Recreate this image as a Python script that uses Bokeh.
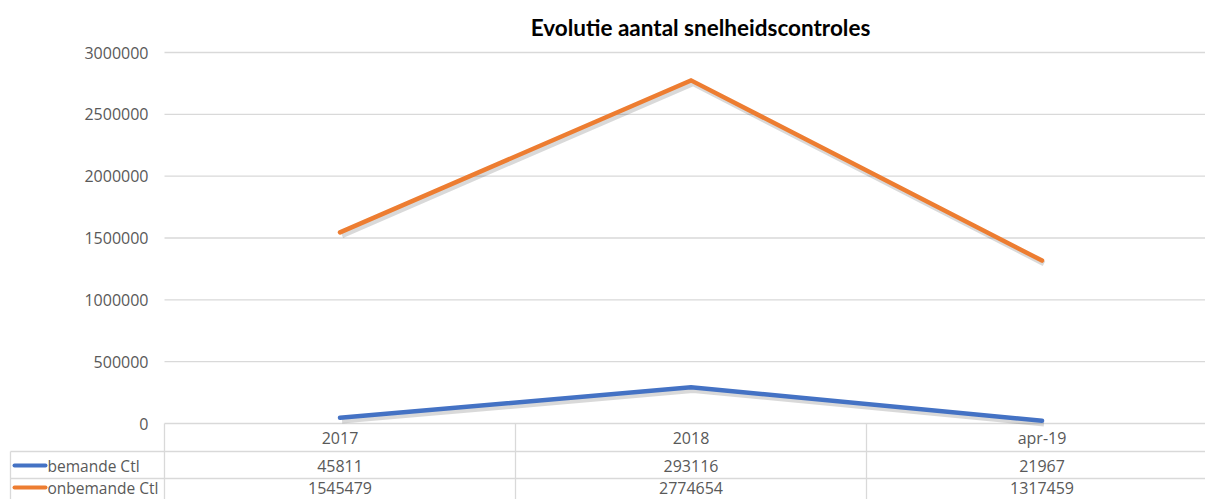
from bokeh.plotting import figure
from bokeh.models import Range1d, ColumnDataSource
from bokeh.transform import dodge
from bokeh.core.properties import value
from bokeh.embed import file_html
from bokeh.resources import INLINE

# ---------------- data ----------------
categories = ["2017", "2018", "apr-19"]
bemande = [45811, 293116, 21967]
onbemande = [1545479, 2774654, 1317459]
series_names = ["bemande Ctl", "onbemande Ctl"]
series_colors = ["#4472C4", "#ED7D31"]
y_ticks = [0, 500000, 1000000, 1500000, 2000000, 2500000, 3000000]
title_text = "Evolutie aantal snelheidscontroles"

# ---------------- layout (pixels) ----------------
W, H = 1205, 499
ORIGIN_X, ORIGIN_Y = 0, 0
PLOT_LEFT = 164                     # screen x of plot-area left
CAT_W = 351                         # px per category
Y0_PX, YTOP_PX = 423, 52            # screen y of 0 and of 3,000,000
YMAX = 3000000
UPP = YMAX / (Y0_PX - YTOP_PX)      # value units per pixel


def sx(px):
    return (px - PLOT_LEFT) / CAT_W


def sy(py):
    return (Y0_PX - py) * UPP


x_range = Range1d(sx(ORIGIN_X), sx(ORIGIN_X + W))
y_range = Range1d(sy(ORIGIN_Y + H), sy(ORIGIN_Y))

p = figure(width=W, height=H, x_range=x_range, y_range=y_range,
           x_axis_type=None, y_axis_type=None, toolbar_location=None,
           output_backend="svg", min_border=0)
p.outline_line_color = None
p.grid.visible = False
p.background_fill_color = "white"

GRID = "#d9d9d9"
TXT = "#595959"
FONT = value("Open Sans")
n = len(categories)

# gridlines
p.segment(x0=[0] * len(y_ticks), x1=[n] * len(y_ticks), y0=y_ticks, y1=y_ticks,
          line_color=GRID, line_width=1.3)
# y tick labels
p.text(x=[sx(148)] * len(y_ticks), y=y_ticks, text=[str(t) for t in y_ticks],
       text_align="right", text_baseline="middle", text_font=FONT,
       text_font_size="16px", text_color=TXT)

# title
p.text(x=[sx(700)], y=[sy(27)], text=[title_text], text_align="center",
       text_baseline="middle", text_font=value("Lato"), text_font_style="bold",
       text_font_size="22.5px", text_color="#000000")

# data lines
xc = [i + 0.5 for i in range(n)]
src = ColumnDataSource(dict(x=xc, b=bemande, o=onbemande))
for col, color in zip(["b", "o"], series_colors):
    p.line(x=dodge("x", 2 / CAT_W), y=dodge(col, -3 * UPP), source=src,
           line_color="#000000", line_alpha=0.15, line_width=5.5, line_join="miter")
    p.line(x="x", y=col, source=src, line_color=color, line_width=4.5,
           line_join="miter", line_cap="round")

# table
row_lines = [sy(451), sy(478)]
left_px = 10
bottom = sy(ORIGIN_Y + H)
p.segment(x0=[sx(left_px)] * 2, x1=[n] * 2, y0=row_lines, y1=row_lines,
          line_color=GRID, line_width=1.3)
p.segment(x0=list(range(n + 1)), x1=list(range(n + 1)), y0=[0] * (n + 1),
          y1=[bottom] * (n + 1), line_color=GRID, line_width=1.3)
p.segment(x0=[sx(left_px)], x1=[sx(left_px)], y0=[row_lines[0]], y1=[bottom],
          line_color=GRID, line_width=1.3)

row_y = [sy(437), sy(465), sy(487)]
p.text(x=xc, y=[row_y[0]] * n, text=categories, text_align="center",
       text_baseline="middle", text_font=FONT, text_font_size="16px", text_color=TXT)
for vals, ry in zip([bemande, onbemande], row_y[1:]):
    p.text(x=xc, y=[ry] * n, text=[str(v) for v in vals], text_align="center",
           text_baseline="middle", text_font=FONT, text_font_size="16px",
           text_color=TXT)

# legend keys in the table
for name, color, ry in zip(series_names, series_colors, row_y[1:]):
    p.segment(x0=[sx(14)], x1=[sx(45)], y0=[ry], y1=[ry], line_color=color,
              line_width=4, line_cap="round")
    p.text(x=[sx(47)], y=[ry], text=[name], text_align="left",
           text_baseline="middle", text_font=FONT, text_font_size="15.5px",
           text_color=TXT)

open("out.html", "w").write(file_html(p, INLINE))
